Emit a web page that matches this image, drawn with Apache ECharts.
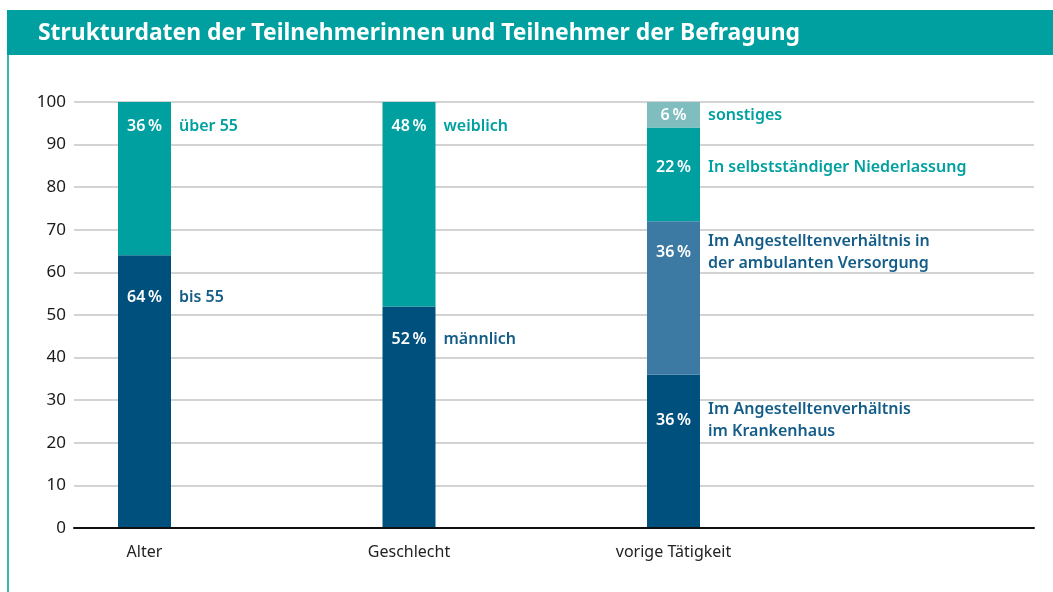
<!DOCTYPE html>
<html><head><meta charset="utf-8">
<script src="https://cdn.jsdelivr.net/npm/echarts@6/dist/echarts.min.js"></script>
<style>html,body{margin:0;padding:0;background:#fff}#c{width:1053px;height:592px}</style>
</head><body><div id="c"></div>
<script>
const title = 'Strukturdaten der Teilnehmerinnen und Teilnehmer der Befragung';
const categories = ['Alter', 'Geschlecht', 'vorige Tätigkeit'];
const yTicks = [0, 10, 20, 30, 40, 50, 60, 70, 80, 90, 100];
// segments bottom to top per category
const alterValues = [64, 36];
const alterNames = ['bis 55', 'über 55'];
const geschlechtValues = [52, 48];
const geschlechtNames = ['männlich', 'weiblich'];
const taetigkeitValues = [36, 36, 22, 6];
const taetigkeitNames = ['Im Angestelltenverhältnis\nim Krankenhaus', 'Im Angestelltenverhältnis in\nder ambulanten Versorgung', 'In selbstständiger Niederlassung', 'sonstiges'];

const TEAL = '#00A0A0', DARK = '#00507D', MID = '#3C7AA3', LIGHT = '#80BDBE';
const TXT_DARK = '#145D89';
// styling per segment (bar colour, name colour, label vertical offset from segment top)
const styleAlter = [{c: DARK, t: TXT_DARK, dy: 42}, {c: TEAL, t: TEAL, dy: 24}];
const styleGeschlecht = [{c: DARK, t: TXT_DARK, dy: 33}, {c: TEAL, t: TEAL, dy: 24}];
const styleTaet = [{c: DARK, t: TXT_DARK, dy: 46}, {c: MID, t: TXT_DARK, dy: 31}, {c: TEAL, t: TEAL, dy: 40}, {c: LIGHT, t: TEAL, dy: 13}];

const FONT = 'Noto Sans';
const series = [];
function addGroup(ci, values, names, styles) {
  values.forEach((v, i) => {
    const data = categories.map((_, k) => k === ci ? v : null);
    const st = styles[i];
    series.push({
      type: 'bar', xAxisIndex: 1, yAxisIndex: 1, stack: 'bars', barWidth: 53, barGap: '-100%',
      data: data, itemStyle: {color: st.c}, silent: true,
      label: {show: true, position: ['50%', st.dy], align: 'center', verticalAlign: 'middle',
        formatter: p => p.value + '\u202F%', color: '#fff', fontFamily: FONT, fontWeight: 600, fontSize: 16}
    });
    series.push({
      type: 'bar', xAxisIndex: 1, yAxisIndex: 1, stack: 'names', barWidth: 53, barGap: '-100%',
      data: data, itemStyle: {color: 'rgba(0,0,0,0)'}, silent: true, z: 5,
      label: {show: true, position: ['100%', st.dy], offset: [8, 0], align: 'left', verticalAlign: 'middle',
        formatter: () => names[i], color: st.t, fontFamily: FONT, fontWeight: 600, fontSize: 16, lineHeight: 22}
    });
  });
}
addGroup(0, alterValues, alterNames, styleAlter);
addGroup(1, geschlechtValues, geschlechtNames, styleGeschlecht);
addGroup(2, taetigkeitValues, taetigkeitNames, styleTaet);

const chart = echarts.init(document.getElementById('c'), null, {renderer: 'canvas'});
chart.setOption({
  animation: false,
  backgroundColor: '#fff',
  graphic: [
    {type: 'rect', left: 7, top: 10, shape: {width: 1046, height: 45}, style: {fill: TEAL}, z: 0},
    {type: 'rect', left: 7, top: 55, shape: {width: 2, height: 537}, style: {fill: '#3DB5B5'}, z: 0},
    {type: 'text', x: 38, y: 33, style: {text: title, fill: '#fff', font: '700 22.9px "Noto Sans"', textVerticalAlign: 'middle', verticalAlign: 'middle'}, z: 1}
  ],
  grid: [
    {left: 74, right: 19, top: 102, bottom: 64},
    {left: 12.25, width: 793.5, top: 102, bottom: 64}
  ],
  xAxis: [
    {gridIndex: 0, type: 'category', data: [''], axisLine: {show: true, lineStyle: {color: '#111', width: 2}}, axisTick: {show: false}, axisLabel: {show: false}, z: 10},
    {gridIndex: 1, type: 'category', data: categories, axisLine: {show: false}, axisTick: {show: false},
      axisLabel: {color: '#222', fontFamily: FONT, fontSize: 16, margin: 16}}
  ],
  yAxis: [
    {gridIndex: 0, type: 'value', min: yTicks[0], max: yTicks[yTicks.length - 1], interval: 10,
      axisLine: {show: false}, axisTick: {show: false},
      axisLabel: {color: '#1a1a1a', fontFamily: FONT, fontSize: 17, margin: 8},
      splitLine: {lineStyle: {color: '#c4c4c4', width: 1.5}}},
    {gridIndex: 1, type: 'value', min: 0, max: 100, interval: 10, show: false, splitLine: {show: false}}
  ],
  series: series
});
</script></body></html>
